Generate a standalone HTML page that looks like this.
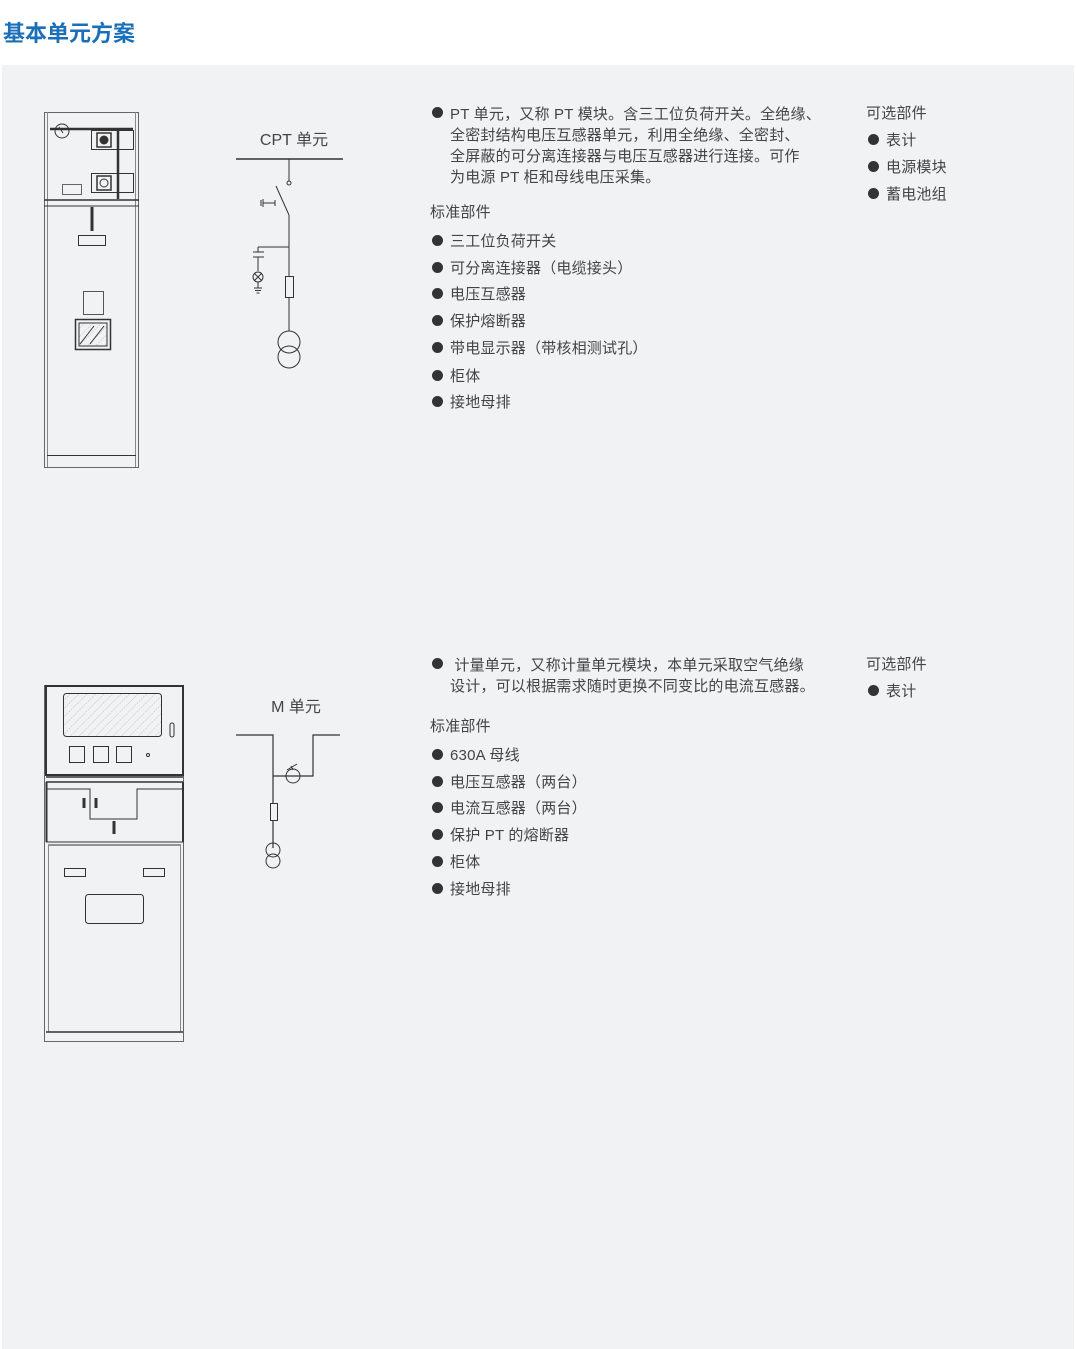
<!DOCTYPE html>
<html><head><meta charset="utf-8"><style>
body{margin:0;width:1076px;height:1349px;background:#fff;position:relative;font-family:"Liberation Sans","Noto Sans CJK SC",sans-serif;overflow:hidden}
.panel{position:absolute;left:2px;top:65px;width:1072px;height:1284px;background:#f0f2f4}
.t{position:absolute;font-size:15px;color:#444;white-space:nowrap;line-height:20px;margin-top:2px;letter-spacing:0.2px}
.b{position:absolute;width:11px;height:11px;border-radius:50%;background:#333}
h1{position:absolute;left:3px;top:16px;margin:0;font-size:22px;font-weight:bold;color:#1a6fb8;font-family:"Liberation Sans","Noto Sans CJK SC",sans-serif}
svg{position:absolute;left:0;top:0}
</style></head><body>
<h1>基本单元方案</h1>
<div class="panel"></div>
<svg width="1076" height="1349" fill="none" stroke="#333" stroke-width="1">
<defs><pattern id="h" width="6" height="6" patternUnits="userSpaceOnUse" patternTransform="rotate(45)"><line x1="0" y1="0" x2="0" y2="6" stroke="#999" stroke-width="0.6" stroke-dasharray="2,1"/></pattern></defs>
<!-- cabinet 1 -->
<rect x="44.5" y="112.5" width="94" height="355" stroke="#666"/>
<line x1="47.5" y1="112" x2="47.5" y2="467" stroke="#888"/>
<line x1="135.5" y1="112" x2="135.5" y2="467" stroke="#888"/>
<circle cx="62" cy="131" r="7"/><line x1="59" y1="127" x2="63" y2="133"/>
<line x1="50" y1="129" x2="133" y2="129" stroke-width="2.5"/>
<rect x="91.5" y="130.5" width="42" height="19"/><rect x="91.5" y="173.5" width="42" height="19"/>
<rect x="97" y="133" width="14" height="14" stroke-width="1.5"/><circle cx="104" cy="140" r="4" fill="#333"/>
<rect x="97" y="176" width="14" height="14" stroke-width="1.5"/><circle cx="104" cy="183" r="4"/>
<line x1="118" y1="129" x2="118" y2="199" stroke-width="2.5"/>
<rect x="62.5" y="184.5" width="19" height="10" stroke="#666"/>
<line x1="44" y1="200" x2="139" y2="200" stroke-width="1.5"/><line x1="44" y1="206" x2="139" y2="206"/>
<line x1="92" y1="207" x2="92" y2="231" stroke-width="3"/>
<rect x="78.5" y="235.5" width="27" height="10"/>
<rect x="83.5" y="291.5" width="20" height="23" stroke="#555"/>
<rect x="75.5" y="319.5" width="35" height="30" stroke-width="1.5"/><rect x="79" y="323" width="28" height="23" fill="url(#h)"/>
<line x1="80" y1="344" x2="94" y2="326"/><line x1="90" y1="344" x2="104" y2="326"/>
<line x1="47" y1="455.5" x2="136" y2="455.5"/>
<!-- CPT diagram -->
<text x="294" y="145" font-size="16" fill="#444" stroke="none" text-anchor="middle" font-family="Liberation Sans,Noto Sans CJK SC,sans-serif">CPT 单元</text>
<line x1="236" y1="159" x2="343" y2="159" stroke-width="1.5"/>
<line x1="289" y1="159" x2="289" y2="181"/><circle cx="289" cy="183" r="2"/>
<line x1="276" y1="186" x2="289" y2="215"/>
<line x1="263" y1="203" x2="275" y2="203"/><line x1="263" y1="199" x2="263" y2="207"/><line x1="261" y1="200" x2="261" y2="206"/><line x1="275" y1="200" x2="275" y2="206"/>
<line x1="289" y1="215" x2="289" y2="331"/>
<line x1="258" y1="247" x2="289" y2="247"/>
<line x1="258" y1="247" x2="258" y2="252"/><line x1="253" y1="252" x2="264" y2="252"/><line x1="253" y1="257" x2="264" y2="257"/><line x1="258" y1="257" x2="258" y2="271"/>
<circle cx="258" cy="277" r="5"/><line x1="254.5" y1="273.5" x2="261.5" y2="280.5"/><line x1="261.5" y1="273.5" x2="254.5" y2="280.5"/>
<line x1="258" y1="282" x2="258" y2="288"/><line x1="254" y1="288" x2="262" y2="288"/><line x1="255" y1="290.5" x2="261" y2="290.5"/><line x1="256.5" y1="293" x2="259.5" y2="293"/>
<rect x="285.5" y="276.5" width="8" height="21" fill="#f0f2f4"/>
<circle cx="289" cy="342" r="11"/><circle cx="289" cy="357" r="11"/>
<!-- cabinet 2 -->
<rect x="44.5" y="685.5" width="139" height="356" stroke="#666"/>
<rect x="46" y="686" width="137" height="89" stroke-width="2"/>
<rect x="63.5" y="693.5" width="98" height="43" rx="3" fill="url(#h)"/>
<rect x="170" y="723" width="4" height="14" rx="2"/>
<rect x="69.5" y="746.5" width="15" height="16"/><rect x="93.5" y="746.5" width="15" height="16"/><rect x="116.5" y="746.5" width="15" height="16"/>
<circle cx="148" cy="755" r="1.5"/>
<line x1="46" y1="777" x2="183" y2="777" stroke-width="1.5"/><line x1="46" y1="782" x2="183" y2="782" stroke-width="1.5"/>
<polyline points="47,789 90,789 90,819 137,819 137,789 183,789"/>
<line x1="46.5" y1="782" x2="46.5" y2="842" stroke-width="2"/><line x1="183" y1="782" x2="183" y2="842" stroke-width="2"/>
<line x1="46" y1="842" x2="183" y2="842"/>
<line x1="84" y1="798" x2="84" y2="808" stroke-width="3"/><line x1="96" y1="798" x2="96" y2="808" stroke-width="3"/>
<line x1="114" y1="821" x2="114" y2="834" stroke-width="3"/>
<line x1="48" y1="845" x2="181" y2="845"/>
<line x1="48.5" y1="845" x2="48.5" y2="1032" stroke="#888"/><line x1="180.5" y1="845" x2="180.5" y2="1032" stroke="#888"/>
<rect x="64.5" y="868.5" width="21" height="8"/><rect x="143.5" y="868.5" width="21" height="8"/>
<rect x="85.5" y="894.5" width="58" height="29" rx="3"/>
<line x1="46" y1="1032" x2="183" y2="1032" stroke-width="1.5"/>
<!-- M diagram -->
<text x="296" y="712" font-size="16" fill="#444" stroke="none" text-anchor="middle" font-family="Liberation Sans,Noto Sans CJK SC,sans-serif">M 单元</text>
<polyline points="236,735 273,735 273,848" stroke-width="1.2"/>
<polyline points="340,735 313,735 313,776 273,776" stroke-width="1.2"/>
<circle cx="293" cy="776" r="7"/><line x1="287" y1="770" x2="297" y2="764"/><line x1="291" y1="766" x2="293" y2="770"/>
<rect x="270.5" y="803.5" width="7" height="17" fill="#f0f2f4"/>
<circle cx="273" cy="850" r="7"/><circle cx="273" cy="861" r="7"/>
</svg>
<!-- text block 1 -->
<div class="b" style="left:432px;top:107px"></div>
<div class="t" style="left:450px;top:102px;line-height:21px">PT 单元，又称 PT 模块。含三工位负荷开关。全绝缘、<br>全密封结构电压互感器单元，利用全绝缘、全密封、<br>全屏蔽的可分离连接器与电压互感器进行连接。可作<br>为电源 PT 柜和母线电压采集。</div>
<div class="t" style="left:430px;top:201px">标准部件</div>
<div class="b" style="left:432px;top:235px"></div><div class="t" style="left:450px;top:230px">三工位负荷开关</div>
<div class="b" style="left:432px;top:262px"></div><div class="t" style="left:450px;top:257px">可分离连接器（电缆接头）</div>
<div class="b" style="left:432px;top:288px"></div><div class="t" style="left:450px;top:283px">电压互感器</div>
<div class="b" style="left:432px;top:315px"></div><div class="t" style="left:450px;top:310px">保护熔断器</div>
<div class="b" style="left:432px;top:342px"></div><div class="t" style="left:450px;top:337px">带电显示器（带核相测试孔）</div>
<div class="b" style="left:432px;top:370px"></div><div class="t" style="left:450px;top:365px">柜体</div>
<div class="b" style="left:432px;top:396px"></div><div class="t" style="left:450px;top:391px">接地母排</div>
<div class="t" style="left:866px;top:102px">可选部件</div>
<div class="b" style="left:868px;top:134px"></div><div class="t" style="left:886px;top:129px">表计</div>
<div class="b" style="left:868px;top:161px"></div><div class="t" style="left:886px;top:156px">电源模块</div>
<div class="b" style="left:868px;top:188px"></div><div class="t" style="left:886px;top:183px">蓄电池组</div>
<!-- text block 2 -->
<div class="b" style="left:432px;top:658px"></div>
<div class="t" style="left:450px;top:653px;line-height:21px">&nbsp;计量单元，又称计量单元模块，本单元采取空气绝缘<br>设计，可以根据需求随时更换不同变比的电流互感器。</div>
<div class="t" style="left:430px;top:715px">标准部件</div>
<div class="b" style="left:432px;top:749px"></div><div class="t" style="left:450px;top:744px">630A 母线</div>
<div class="b" style="left:432px;top:776px"></div><div class="t" style="left:450px;top:771px">电压互感器（两台）</div>
<div class="b" style="left:432px;top:802px"></div><div class="t" style="left:450px;top:797px">电流互感器（两台）</div>
<div class="b" style="left:432px;top:829px"></div><div class="t" style="left:450px;top:824px">保护 PT 的熔断器</div>
<div class="b" style="left:432px;top:856px"></div><div class="t" style="left:450px;top:851px">柜体</div>
<div class="b" style="left:432px;top:883px"></div><div class="t" style="left:450px;top:878px">接地母排</div>
<div class="t" style="left:866px;top:653px">可选部件</div>
<div class="b" style="left:868px;top:685px"></div><div class="t" style="left:886px;top:680px">表计</div>
</body></html>
